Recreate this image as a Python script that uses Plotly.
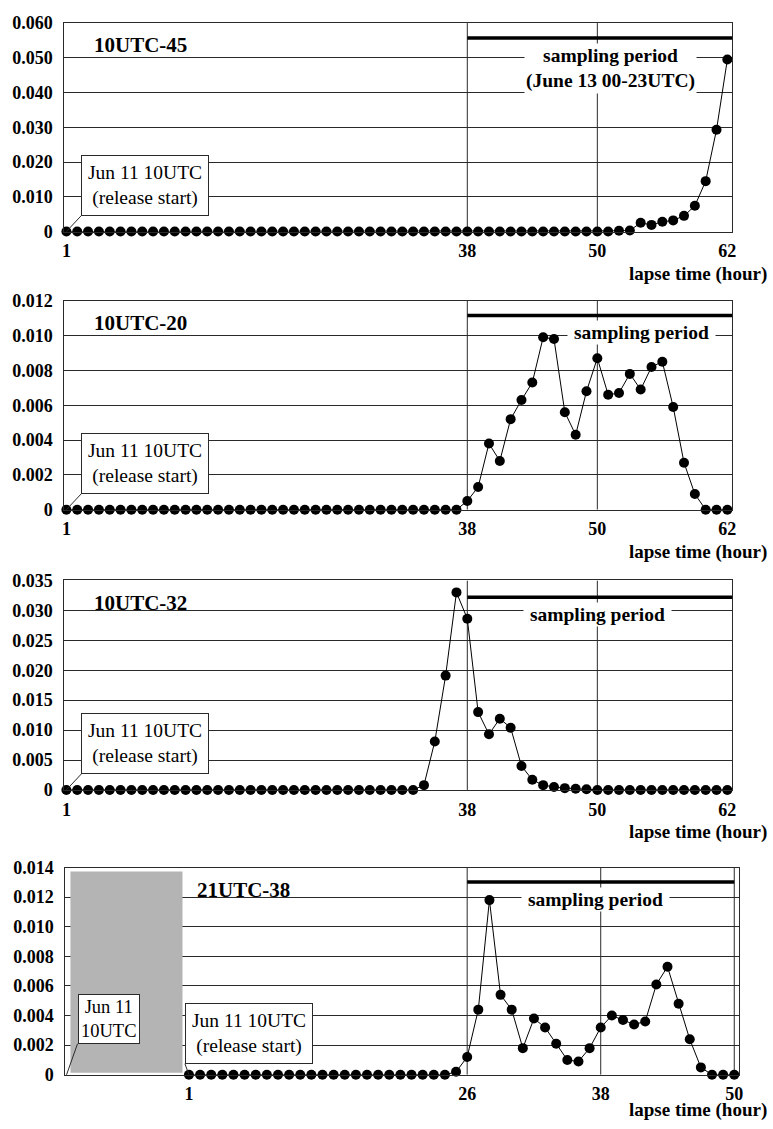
import plotly.graph_objects as go

# ---------------- data ----------------
hours_62 = list(range(1, 63))
hours_50 = list(range(1, 51))

conc_10utc_45 = [0, 0, 0, 0, 0, 0, 0, 0, 0, 0,
                 0, 0, 0, 0, 0, 0, 0, 0, 0, 0,
                 0, 0, 0, 0, 0, 0, 0, 0, 0, 0,
                 0, 0, 0, 0, 0, 0, 0, 0, 0, 0,
                 0, 0, 0, 0, 0, 0, 0, 0, 0, 0,
                 0, 0.0002, 0.0003, 0.0025, 0.0019, 0.0028, 0.0032, 0.0045, 0.0074, 0.0145,
                 0.0293, 0.0495]

conc_10utc_20 = [0, 0, 0, 0, 0, 0, 0, 0, 0, 0,
                 0, 0, 0, 0, 0, 0, 0, 0, 0, 0,
                 0, 0, 0, 0, 0, 0, 0, 0, 0, 0,
                 0, 0, 0, 0, 0, 0, 0, 0.0005, 0.0013, 0.0038,
                 0.0028, 0.0052, 0.0063, 0.0073, 0.0099, 0.0098, 0.0056, 0.0043, 0.0068, 0.0087,
                 0.0066, 0.0067, 0.0078, 0.0069, 0.0082, 0.0085, 0.0059, 0.0027, 0.0009, 0,
                 0, 0]

conc_10utc_32 = [0, 0, 0, 0, 0, 0, 0, 0, 0, 0,
                 0, 0, 0, 0, 0, 0, 0, 0, 0, 0,
                 0, 0, 0, 0, 0, 0, 0, 0, 0, 0,
                 0, 0, 0, 0.0008, 0.0081, 0.0191, 0.0330, 0.0286, 0.0130, 0.0093,
                 0.0119, 0.0104, 0.0040, 0.0017, 0.0008, 0.0005, 0.0003, 0.0002, 0.0001, 0,
                 0, 0, 0, 0, 0, 0, 0, 0, 0, 0,
                 0, 0]

conc_21utc_38 = [0, 0, 0, 0, 0, 0, 0, 0, 0, 0,
                 0, 0, 0, 0, 0, 0, 0, 0, 0, 0,
                 0, 0, 0, 0, 0.0002, 0.0012, 0.0044, 0.0118, 0.0054, 0.0044,
                 0.0018, 0.0038, 0.0032, 0.0021, 0.0010, 0.0009, 0.0018, 0.0032, 0.0040, 0.0037,
                 0.0034, 0.0036, 0.0061, 0.0073, 0.0048, 0.0024, 0.0005, 0, 0, 0]

panel_titles = ["10UTC-45", "10UTC-20", "10UTC-32", "21UTC-38"]

yticks_45 = ["0", "0.010", "0.020", "0.030", "0.040", "0.050", "0.060"]
yticks_20 = ["0", "0.002", "0.004", "0.006", "0.008", "0.010", "0.012"]
yticks_32 = ["0", "0.005", "0.010", "0.015", "0.020", "0.025", "0.030", "0.035"]
yticks_38 = ["0", "0.002", "0.004", "0.006", "0.008", "0.010", "0.012", "0.014"]

xticks_62 = [1, 38, 50, 62]
xticks_50 = [1, 26, 38, 50]

sampling_start_62 = 38
sampling_start_50 = 26

# ---------------- styling / layout ----------------
W, H = 773, 1129
SERIF = "Liberation Serif"
LINE = "#2a2a2a"
NB = "&nbsp;"


def px_x(p):
    return p / W


def px_y(p):
    return 1 - p / H


panels = [
    dict(x=hours_62, y=conc_10utc_45, yt=yticks_45, xt=xticks_62,
         xd=(62, 736), yd=(225.5, 13.3), xr=(0.82, 62.46), bar=0.0557,
         start=sampling_start_62, bar_end=62.46, vlines=[38, 50], tx=90),
    dict(x=hours_62, y=conc_10utc_20, yt=yticks_20, xt=xticks_62,
         xd=(62, 736), yd=(508.7, 296), xr=(0.82, 62.46), bar=0.01116,
         start=sampling_start_62, bar_end=62.46, vlines=[38, 50], tx=90),
    dict(x=hours_62, y=conc_10utc_32, yt=yticks_32, xt=xticks_62,
         xd=(62, 736), yd=(794, 580.7), xr=(0.82, 62.46), bar=0.0322,
         start=sampling_start_62, bar_end=62.46, vlines=[38, 50], tx=90),
    dict(x=hours_50, y=conc_21utc_38, yt=yticks_38, xt=xticks_50,
         xd=(63, 743), yd=(1084, 873), xr=(-10.1, 50.45), bar=0.01303,
         start=sampling_start_50, bar_end=50, vlines=[26, 38, 50], tx=194),
]

fig = go.Figure()
layout = dict(
    width=W, height=H, margin=dict(l=0, r=0, t=0, b=0),
    paper_bgcolor="white", plot_bgcolor="white", showlegend=False,
    font=dict(family=SERIF, color="black"),
)
shapes = []
annotations = []

for i, p in enumerate(panels, start=1):
    xa = "x" if i == 1 else f"x{i}"
    ya = "y" if i == 1 else f"y{i}"
    fig.add_trace(go.Scatter(
        x=p["x"], y=p["y"], xaxis=xa, yaxis=ya, mode="lines+markers",
        line=dict(color="black", width=1),
        marker=dict(color="black", size=10),
        cliponaxis=False, hoverinfo="skip",
    ))
    tickvals = [float(t) for t in p["yt"]]
    layout[f"xaxis{'' if i == 1 else i}"] = dict(
        domain=[px_x(p["xd"][0]), px_x(p["xd"][1])], range=list(p["xr"]),
        anchor=ya, tickmode="array", tickvals=p["xt"],
        ticktext=[f"<b>{v}</b>" for v in p["xt"]], ticks="", showgrid=False,
        zeroline=False, showline=True, mirror=True, linecolor=LINE, linewidth=1,
        tickfont=dict(family=SERIF, size=18, color="black"),
        ticklabelstandoff=3,
    )
    layout[f"yaxis{'' if i == 1 else i}"] = dict(
        domain=[px_y(p["yd"][0]), px_y(p["yd"][1])],
        range=[0, tickvals[-1]], anchor=xa, tickmode="array",
        tickvals=tickvals, ticktext=[f"<b>{t}</b>" for t in p["yt"]], ticks="",
        showgrid=True, gridcolor=LINE, gridwidth=1, zeroline=False,
        showline=True, mirror=True, linecolor=LINE, linewidth=1,
        tickfont=dict(family=SERIF, size=18, color="black"),
        ticklabelstandoff=7,
    )
    for v in p["vlines"]:
        if v >= p["xr"][1] - 0.1:
            continue
        shapes.append(dict(type="line", xref=xa, yref=ya,
                           x0=v, x1=v, y0=0, y1=tickvals[-1], layer="below",
                           line=dict(color=LINE, width=1)))
    shapes.append(dict(type="line", xref=xa, yref=ya, x0=p["start"], x1=p["bar_end"],
                       y0=p["bar"], y1=p["bar"], layer="above",
                       line=dict(color="black", width=3.5)))
    annotations.append(dict(text=f"<b>{panel_titles[i-1]}</b>", xref="paper", yref="paper",
                            x=px_x(p["tx"]), y=px_y(p["yd"][1] + 22.5), xanchor="left",
                            yanchor="middle", showarrow=False,
                            font=dict(family=SERIF, size=21, color="black")))
    annotations.append(dict(text="<b>lapse time (hour)</b>", xref="paper", yref="paper",
                            x=1.0, y=px_y(p["yd"][0] + (36 if i == 4 else 43)),
                            xanchor="right", yanchor="middle", showarrow=False,
                            font=dict(family=SERIF, size=19, color="black")))

# gray "before release" block in panel 4
shapes.append(dict(type="rect", xref="x4", yref="y4", x0=-9.65, x1=0.42,
                   y0=0.00014, y1=0.01374, layer="above", fillcolor="#b4b4b4",
                   line=dict(width=0)))

# sampling period labels
samp_font = dict(family=SERIF, size=19.5, color="black")
annotations += [
    dict(text=f"<b>{NB}sampling period{NB}</b><br><b>(June 13 00-23UTC)</b>",
         xref="paper", yref="paper", x=px_x(613), y=px_y(60), xanchor="center",
         yanchor="middle", showarrow=False, bgcolor="white", borderpad=1, font=samp_font),
    dict(text=f"<b>{NB}sampling period{NB}</b>", xref="paper", yref="paper",
         x=px_x(644), y=px_y(328), xanchor="center", yanchor="middle",
         showarrow=False, bgcolor="white", borderpad=1, font=samp_font),
    dict(text=f"<b>{NB}sampling period{NB}</b>", xref="paper", yref="paper",
         x=px_x(600), y=px_y(615), xanchor="center", yanchor="middle",
         showarrow=False, bgcolor="white", borderpad=1, font=samp_font),
    dict(text=f"<b>{NB}sampling period{NB}</b>", xref="paper", yref="paper",
         x=px_x(598), y=px_y(906), xanchor="center", yanchor="middle",
         showarrow=False, bgcolor="white", borderpad=1, font=samp_font),
]

# release start boxes with leader lines
box_font = dict(family=SERIF, size=19.5, color="black")
for i in (1, 2, 3):
    xa = "x" if i == 1 else f"x{i}"
    ya = "y" if i == 1 else f"y{i}"
    annotations.append(dict(text="Jun 11 10UTC<br>(release start)", xref=xa, yref=ya,
                            x=1, y=0, ax=15, ay=-16, xanchor="left", yanchor="bottom",
                            showarrow=True, arrowhead=0, arrowwidth=1, arrowcolor=LINE,
                            bgcolor="white", bordercolor=LINE, borderwidth=1, borderpad=6,
                            font=box_font))
annotations.append(dict(text="Jun 11 10UTC<br>(release start)", xref="x4", yref="y4",
                        x=1, y=0, ax=-4, ay=-11, xanchor="left", yanchor="bottom",
                        showarrow=True, arrowhead=0, arrowwidth=1, arrowcolor=LINE,
                        bgcolor="white", bordercolor=LINE, borderwidth=1, borderpad=6,
                        font=box_font))
annotations.append(dict(text="Jun 11<br>10UTC", xref="x4", yref="y4",
                        x=-10, y=0, ax=11, ay=-31, xanchor="left", yanchor="bottom",
                        showarrow=True, arrowhead=0, arrowwidth=1, arrowcolor=LINE,
                        bgcolor="white", bordercolor=LINE, borderwidth=1, borderpad=2,
                        font=dict(family=SERIF, size=18.5, color="black")))

layout["shapes"] = shapes
layout["annotations"] = annotations
fig.update_layout(**layout)

page_fix = (
    "var s=document.createElement('style');"
    "s.textContent='html,body{margin:0!important;padding:0!important;overflow:hidden;"
    "background:#ffffff;}';"
    "document.head.appendChild(s);"
)
fig.write_html("out.html", config={"displayModeBar": False}, post_script=page_fix)
